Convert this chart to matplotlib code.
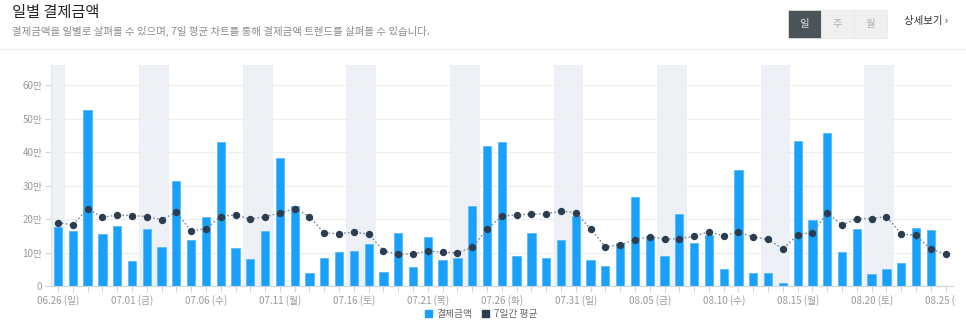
import matplotlib
matplotlib.use("Agg")
import matplotlib.pyplot as plt
import numpy as np
import pandas as pd
from matplotlib.lines import Line2D
from matplotlib.patches import FancyBboxPatch, Patch
from matplotlib.transforms import Bbox

plt.rcParams["font.family"] = ["Noto Sans CJK KR", "DejaVu Sans"]

# daily amount, unit: 만원 (2022-06-26 .. 2022-08-25)
start_date = "2022-06-26"
daily_amount = [
    17.8, 16.6, 52.7, 15.7, 18.0, 7.4, 17.0, 11.6, 31.3, 13.7,
    20.7, 43.1, 11.4, 8.0, 16.4, 38.3, 23.8, 3.9, 8.5, 10.1,
    10.5, 12.7, 4.2, 15.9, 5.8, 14.7, 7.8, 8.4, 24.0, 41.9,
    42.9, 8.9, 16.0, 8.5, 13.9, 20.9, 7.9, 6.0, 13.0, 26.7,
    14.8, 8.9, 21.6, 13.0, 15.3, 5.1, 34.7, 3.9, 3.9, 1.0,
    43.3, 19.9, 45.6, 10.1, 17.0, 3.7, 5.1, 6.9, 17.4, 16.8,
    0.0,
]
avg_7d = [
    19.0, 18.3, 23.1, 20.6, 21.2, 21.1, 20.8, 19.9, 22.1, 16.5,
    17.2, 20.8, 21.3, 20.0, 20.8, 21.8, 23.2, 20.8, 15.9, 15.7,
    16.1, 15.6, 10.6, 9.5, 9.7, 10.5, 10.2, 10.0, 11.6, 17.0,
    20.9, 21.3, 21.5, 21.6, 22.4, 22.0, 17.1, 11.8, 12.4, 13.9,
    14.8, 14.1, 14.2, 14.9, 16.2, 15.1, 16.2, 14.7, 14.0, 11.1,
    15.4, 16.0, 21.8, 18.3, 20.2, 20.2, 20.8, 15.6, 15.2, 11.1,
    9.6,
]
y_ticks = [0, 10, 20, 30, 40, 50, 60]
weekday_names = ["월", "화", "수", "목", "금", "토", "일"]

dates = pd.date_range(start_date, periods=len(daily_amount), freq="D")
x = np.arange(len(dates))

BAR = "#18a0fb"
DOT = "#2b3e51"
GREY = "#9a9a9a"

fig = plt.figure(figsize=(9.66, 3.31), dpi=100)
W, H = 966, 331
ax = fig.add_axes([50.6 / W, 1 - 286.3 / H, (953 - 50.6) / W, (286.3 - 65) / H])

# weekend shading
for i, d in enumerate(dates):
    if d.weekday() >= 5:
        ax.axvspan(i - 0.5, i + 0.5, color="#edf1f6", lw=0, zorder=0)

ax.bar(x, daily_amount, width=0.56, color=BAR, edgecolor="#58bafc", linewidth=0.6, zorder=2)
ax.plot(x, avg_7d, color="#7c8791", lw=1.0, ls=(0, (1.2, 1.6)), zorder=3)
ax.plot(x, avg_7d, ls="none", marker="o", ms=4.3, color=DOT, zorder=4)

ax.set_xlim(-0.5, len(x) - 0.5)
ax.set_ylim(0, 66)
ax.set_yticks(y_ticks)
ax.set_yticklabels(["0"] + [f"{v}만" for v in y_ticks[1:]])
ax.set_xticks(x)
ax.set_xticklabels([
    f"{d:%m.%d} ({weekday_names[d.weekday()]})" if i % 5 == 0 else ""
    for i, d in enumerate(dates)
])
ax.grid(axis="y", color="#eeeeee", lw=0.9, zorder=1)
ax.set_axisbelow(True)
for side in ["top", "right"]:
    ax.spines[side].set_visible(False)
ax.spines["bottom"].set_color("#cfd6dc")
ax.spines["left"].set_color("#e3e7eb")
ax.tick_params(axis="both", colors="#cfd6dc", labelcolor=GREY, labelsize=7, length=4, width=0.8)
ax.tick_params(axis="x", pad=2)
ax.tick_params(axis="y", pad=2)

# the chart canvas cuts the last date label short
clip = Bbox([[0, 0], [956, H]])
for lbl in ax.get_xticklabels():
    lbl.set_clip_on(True)
    lbl.set_clip_box(clip)

# header
fig.text(12 / W, 1 - 13 / H, "일별 결제금액", fontsize=11, fontweight="medium",
         color="#222222", va="center", ha="left")
fig.text(12 / W, 1 - 31 / H,
         "결제금액을 일별로 살펴볼 수 있으며, 7일 평균 차트를 통해 결제금액 트렌드를 살펴볼 수 있습니다.",
         fontsize=7.5, color="#8c8c8c", va="center", ha="left")
fig.add_artist(Line2D([0, 1], [1 - 48.5 / H, 1 - 48.5 / H], color="#f0f0f0", lw=1))

buttons = [("일", 788, 821, "#4b5458", "#e0e3e5"),
           ("주", 821, 854, "#f0f0f0", "#b0b0b0"),
           ("월", 854, 887, "#f0f0f0", "#b0b0b0")]
for label, x0, x1, bg, fg in buttons:
    fig.add_artist(FancyBboxPatch((x0 / W, 1 - 38 / H), (x1 - x0) / W, 28 / H,
                                  boxstyle="square,pad=0", fc=bg, ec="#e6e6e6", lw=0.5,
                                  transform=fig.transFigure))
    fig.text((x0 + x1) / 2 / W, 1 - 24 / H, label, fontsize=7.5, color=fg, ha="center", va="center")
fig.text(904 / W, 1 - 21 / H, "상세보기 ›", fontsize=7.5, color="#333333", ha="left", va="center")

# legend
handles = [Patch(color=BAR, label="결제금액"), Patch(color=DOT, label="7일간 평균")]
fig.legend(handles=handles, loc="center", bbox_to_anchor=(481 / W, 1 - 314 / H), ncol=2,
           frameon=False, fontsize=7, handlelength=0.7, handleheight=0.7, handletextpad=0.5,
           columnspacing=1.0, labelcolor="#666666")

fig.savefig("out.png", dpi=100)
